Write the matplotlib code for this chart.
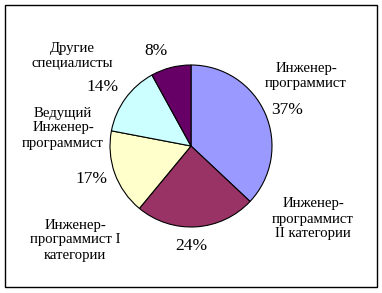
import matplotlib.pyplot as plt
from matplotlib.patches import Rectangle

# slice data (clockwise from the top)
names = ["Инженер-\nпрограммист", "Инженер-\nпрограммист\nII категории",
         "Инженер-\nпрограммист I\nкатегории", "Ведущий\nИнженер-\nпрограммист",
         "Другие\nспециалисты"]
shares = [37, 24, 17, 14, 8]
colors = ["#9999ff", "#993366", "#ffffcc", "#ccffff", "#660066"]

# label positions in pixels (x, y from top) : name, percent
name_pos = [(306, 76), (313, 219), (75, 240), (63, 128), (72, 56), None]
pct_pos = [(287, 110), (191, 246), (91, 179), (103, 87), (156, 51)]

W, H = 382, 293
fig = plt.figure(figsize=(W / 100, H / 100), dpi=100)
ax = fig.add_axes([0, 0, 1, 1])
ax.set_xlim(0, W)
ax.set_ylim(0, H)
ax.set_aspect("equal")
ax.axis("off")

ax.pie(shares, colors=colors, startangle=90, counterclock=False,
       center=(191, H - 146), radius=81,
       wedgeprops=dict(edgecolor="black", linewidth=0.8))
ax.set_xlim(0, W)
ax.set_ylim(0, H)

font = "Liberation Serif"
for i in range(len(shares)):
    if i < len(names):
        x, y = name_pos[i]
        ax.text(x, H - y, names[i], ha="center", va="center", fontsize=10.6,
                family=font, linespacing=1.2)
    x, y = pct_pos[i]
    ax.text(x, H - y, str(shares[i]) + "%", ha="center", va="center",
            fontsize=12.5, family=font)

ax.add_patch(Rectangle((5, 6), 372, 282, fill=False, edgecolor="black",
                       linewidth=1))

fig.savefig("out.png", dpi=100)
